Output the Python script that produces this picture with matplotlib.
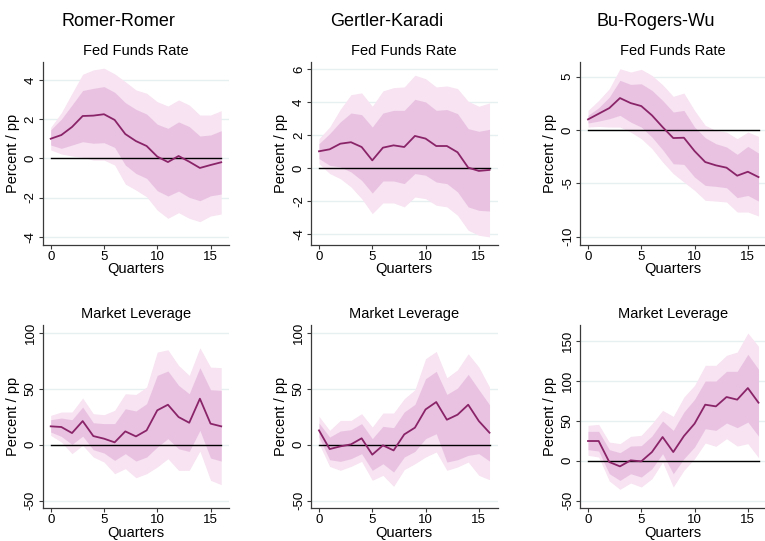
import matplotlib
matplotlib.use("Agg")
import matplotlib.pyplot as plt
import numpy as np

plt.rcParams['font.family'] = ['Liberation Sans', 'DejaVu Sans']

quarters = list(range(17))

# Fed Funds Rate responses: point estimate, 68% band, 90% band
rr_ffr = [1.0, 1.19, 1.6, 2.16, 2.18, 2.25, 1.96, 1.24, 0.88, 0.63, 0.09, -0.19, 0.12, -0.17, -0.49, -0.34, -0.2]
rr_ffr_hi68 = [1.45, 2.0, 2.72, 3.46, 3.57, 3.66, 3.37, 2.84, 2.5, 2.26, 1.74, 1.53, 1.86, 1.62, 1.14, 1.19, 1.41]
rr_ffr_lo68 = [0.68, 0.51, 0.68, 0.85, 0.77, 0.8, 0.56, -0.34, -0.77, -1.02, -1.65, -1.92, -1.67, -1.99, -2.16, -1.91, -1.82]
rr_ffr_hi90 = [1.58, 2.33, 3.32, 4.29, 4.51, 4.6, 4.31, 3.91, 3.49, 3.32, 2.89, 2.67, 2.98, 2.72, 2.21, 2.21, 2.43]
rr_ffr_lo90 = [0.43, 0.22, 0.12, 0.05, -0.09, -0.09, -0.34, -1.31, -1.62, -1.96, -2.64, -3.06, -2.77, -3.06, -3.23, -2.94, -2.84]

gk_ffr = [1.01, 1.13, 1.47, 1.56, 1.27, 0.46, 1.23, 1.37, 1.27, 1.94, 1.78, 1.33, 1.33, 0.95, 0.02, -0.18, -0.12]
gk_ffr_hi68 = [1.47, 2.08, 2.79, 3.33, 3.23, 2.48, 3.33, 3.49, 3.49, 4.16, 4.0, 3.49, 3.54, 3.29, 2.38, 2.22, 2.34]
gk_ffr_lo68 = [0.57, 0.16, 0.06, -0.24, -0.75, -1.52, -0.79, -0.79, -0.95, -0.34, -0.44, -0.85, -0.95, -1.45, -2.36, -2.57, -2.61]
gk_ffr_hi90 = [1.78, 2.48, 3.56, 4.44, 4.55, 3.74, 4.67, 4.87, 4.91, 5.62, 5.41, 4.91, 4.97, 4.81, 4.04, 3.74, 3.94]
gk_ffr_lo90 = [0.26, -0.34, -0.65, -1.15, -1.86, -2.77, -2.12, -2.12, -2.36, -1.76, -1.86, -2.26, -2.36, -2.87, -3.78, -4.08, -4.18]

brw_ffr = [1.0, 1.53, 2.06, 3.0, 2.53, 2.25, 1.38, 0.28, -0.75, -0.72, -1.97, -3.0, -3.31, -3.53, -4.28, -3.91, -4.41]
brw_ffr_hi68 = [1.38, 2.09, 3.09, 4.66, 4.28, 4.34, 3.72, 2.78, 1.69, 1.84, 0.28, -0.72, -1.28, -1.59, -2.28, -1.53, -2.16]
brw_ffr_lo68 = [0.66, 0.84, 1.06, 1.38, 0.75, 0.28, -0.66, -1.84, -3.16, -3.22, -4.41, -5.19, -5.28, -5.41, -6.34, -6.13, -6.66]
brw_ffr_hi90 = [1.84, 2.78, 3.88, 5.75, 5.44, 5.69, 5.13, 4.25, 3.16, 3.47, 1.84, 0.44, -0.03, -0.19, -0.81, -0.19, -0.59]
brw_ffr_lo90 = [0.28, 0.34, 0.28, 0.28, -0.19, -0.81, -1.75, -3.0, -4.09, -4.88, -5.66, -6.59, -6.66, -6.75, -7.69, -7.69, -8.06]

# Market Leverage responses
rr_lev = [16.4, 15.8, 10.4, 21.1, 7.7, 5.4, 2.1, 11.9, 7.4, 12.8, 30.7, 35.7, 24.7, 19.6, 41.1, 18.8, 16.4]
rr_lev_hi68 = [22.3, 23.8, 22.3, 33.6, 19.6, 18.8, 18.8, 32.1, 30.1, 36.6, 61.9, 65.8, 53.0, 45.5, 68.8, 49.1, 48.5]
rr_lev_lo68 = [11.3, 7.4, 0.3, 7.7, -4.5, -7.4, -14.0, -8.0, -14.6, -11.0, -2.1, 5.4, -3.6, -6.0, 12.8, -11.9, -14.6]
rr_lev_hi90 = [26.2, 29.2, 29.2, 41.7, 27.7, 26.8, 30.7, 45.5, 44.9, 51.5, 82.7, 84.8, 70.8, 61.9, 86.6, 69.3, 68.8]
rr_lev_lo90 = [8.3, 2.4, -8.0, -0.6, -11.0, -15.5, -25.9, -21.4, -29.5, -25.9, -19.9, -12.5, -22.9, -22.9, -5.7, -31.8, -35.7]

gk_lev = [12.8, -3.9, -1.5, 0.3, 5.7, -8.9, -0.6, -5.1, 9.2, 15.2, 31.5, 38.1, 22.3, 26.8, 35.7, 21.1, 10.7]
gk_lev_hi68 = [19.3, 6.8, 12.2, 13.4, 18.8, 5.4, 16.4, 15.2, 29.2, 36.0, 58.9, 65.5, 44.9, 50.6, 62.8, 49.1, 35.7]
gk_lev_lo68 = [6.8, -13.4, -14.9, -12.5, -8.0, -22.9, -17.0, -24.4, -11.0, -6.0, 5.4, 9.8, -15.5, -13.4, -9.5, -8.0, -14.6]
gk_lev_hi90 = [25.3, 12.8, 21.7, 21.7, 27.7, 15.8, 28.3, 28.3, 41.1, 49.1, 76.8, 83.3, 59.8, 66.9, 81.2, 69.3, 51.5]
gk_lev_lo90 = [0.9, -19.4, -22.9, -19.4, -14.9, -31.8, -27.4, -37.2, -22.3, -17.0, -11.0, -6.5, -22.9, -19.9, -15.5, -27.4, -31.3]

brw_lev = [24.6, 24.6, -1.7, -7.1, 0.4, -0.8, 10.8, 29.6, 10.8, 30.8, 46.3, 70.0, 67.9, 79.6, 76.3, 90.8, 72.5]
brw_lev_hi68 = [36.7, 36.7, 13.8, 10.0, 18.3, 18.8, 30.8, 49.6, 37.9, 60.8, 76.7, 99.6, 99.6, 111.7, 111.7, 132.9, 114.2]
brw_lev_lo68 = [13.8, 12.1, -16.3, -24.6, -16.3, -20.4, -10.0, 8.8, -16.3, 2.5, 17.1, 40.0, 37.9, 47.1, 41.3, 48.3, 30.8]
brw_lev_hi90 = [44.2, 45.4, 23.3, 21.3, 30.4, 31.7, 46.3, 62.9, 55.4, 79.6, 94.2, 119.2, 119.2, 131.7, 135.8, 159.6, 142.9]
brw_lev_lo90 = [6.7, 4.6, -25.4, -35.8, -27.9, -32.9, -22.5, -1.7, -32.9, -12.1, 2.5, 22.1, 17.9, 27.5, 18.3, 21.3, 3.8]

column_titles = ["Romer-Romer", "Gertler-Karadi", "Bu-Rogers-Wu"]
row_titles = ["Fed Funds Rate", "Market Leverage"]

ffr_ticks = [[-4, -2, 0, 2, 4], [-4, -2, 0, 2, 4, 6], [-10, -5, 0, 5]]
lev_ticks = [[-50, 0, 50, 100], [-50, 0, 50, 100], [-50, 0, 50, 100, 150]]
ffr_lims = [(-4.42, 4.93), (-4.67, 6.44), (-10.78, 6.41)]
lev_lims = [(-56.8, 106.9), (-56.8, 106.9), (-59.5, 169.6)]

panels = [
    [(rr_ffr, rr_ffr_lo68, rr_ffr_hi68, rr_ffr_lo90, rr_ffr_hi90),
     (gk_ffr, gk_ffr_lo68, gk_ffr_hi68, gk_ffr_lo90, gk_ffr_hi90),
     (brw_ffr, brw_ffr_lo68, brw_ffr_hi68, brw_ffr_lo90, brw_ffr_hi90)],
    [(rr_lev, rr_lev_lo68, rr_lev_hi68, rr_lev_lo90, rr_lev_hi90),
     (gk_lev, gk_lev_lo68, gk_lev_hi68, gk_lev_lo90, gk_lev_hi90),
     (brw_lev, brw_lev_lo68, brw_lev_hi68, brw_lev_lo90, brw_lev_hi90)],
]

LINE = "#8a2468"
BAND68 = "#e9c2e2"
BAND90 = "#f7e3f1"
GRID = "#e6f0f1"
SPINE = "#3a3a3a"

W, H = 765, 541
fig = plt.figure(figsize=(W / 100, H / 100), dpi=100)

col_left = [42.7, 311.0, 580.0]
ax_w = 186.5
row_top = [61.7, 325.0]
ax_h = 183.3

for r in range(2):
    for c in range(3):
        left = col_left[c] / W
        bottom = (H - row_top[r] - ax_h) / H
        ax = fig.add_axes([left, bottom, ax_w / W, ax_h / H])
        est, lo68, hi68, lo90, hi90 = panels[r][c]
        ax.fill_between(quarters, lo90, hi90, color=BAND90, lw=0, zorder=1)
        ax.fill_between(quarters, lo68, hi68, color=BAND68, lw=0, zorder=2)
        ax.plot([quarters[0], quarters[-1]], [0, 0], color="black", lw=1.0, zorder=3)
        ax.plot(quarters, est, color=LINE, lw=1.3, zorder=4)

        ticks = ffr_ticks[c] if r == 0 else lev_ticks[c]
        lims = ffr_lims[c] if r == 0 else lev_lims[c]
        ax.set_ylim(*lims)
        ax.set_yticks(ticks)
        ax.set_yticklabels([str(t) for t in ticks], rotation=90, va="center")
        ax.set_xlim(-0.75, 16.75)
        ax.set_xticks([0, 5, 10, 15])
        ax.grid(axis="y", color=GRID, lw=1.0, zorder=0)
        ax.set_axisbelow(True)
        for s in ["top", "right"]:
            ax.spines[s].set_visible(False)
        for s in ["left", "bottom"]:
            ax.spines[s].set_color(SPINE)
            ax.spines[s].set_linewidth(0.9)
        ax.tick_params(axis="both", length=2.6, width=0.8, color=SPINE,
                       labelsize=9.5, pad=1.8)
        ax.set_xlabel("Quarters", fontsize=10.5, labelpad=-0.5)
        ax.set_ylabel("Percent / pp", fontsize=10.5, labelpad=3.5)
        ax.set_title(row_titles[r], fontsize=10.5, pad=5)
        ax.set_facecolor("white")

col_centers = [118, 387, 656]
for c, t in enumerate(column_titles):
    fig.text(col_centers[c] / W, 1 - 22 / H, t, ha="center", va="center", fontsize=13)

fig.savefig("out.png", dpi=100, facecolor="white")
